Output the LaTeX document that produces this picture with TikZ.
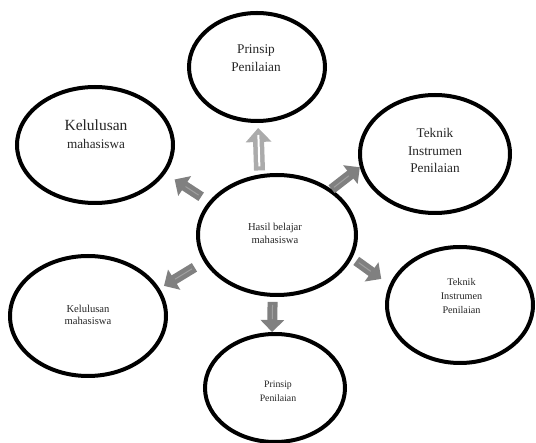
\documentclass[tikz,border=0pt]{standalone}
\usepackage{fontspec}
\setmainfont{Liberation Serif}
\usetikzlibrary{shapes.geometric,arrows.meta}
\definecolor{arrgray}{RGB}{128,128,128}
\definecolor{arrlight}{RGB}{171,171,171}
\definecolor{slitgray}{RGB}{160,160,160}
\tikzset{
  bubble/.style={draw=black, line width=4pt, ellipse, inner sep=0pt, fill=white},
  bubbletext/.style={align=center, inner sep=0pt, text=black!85},
  blockarr/.style={draw=arrgray, line width=10pt, -{Triangle[width=23pt,length=12pt]}},
  blockarrlight/.style={draw=arrlight, line width=11pt, -{Triangle[width=25pt,length=14pt]}},
  slit/.style={line width=1pt, draw=slitgray}
}
\begin{document}
\begin{tikzpicture}[x=1pt,y=1pt,yscale=-1,xscale=1]
\useasboundingbox (0,0) rectangle (536,443);

%Shape: Ellipse [center]
\node[bubble, minimum width=158pt, minimum height=120pt] (hasil) at (277,235) {};
%Shape: Ellipse [top]
\node[bubble, minimum width=136pt, minimum height=108pt] (prinsipA) at (257,67) {};
%Shape: Ellipse [upper left]
\node[bubble, minimum width=156pt, minimum height=116pt] (kelA) at (95,145) {};
%Shape: Ellipse [upper right]
\node[bubble, minimum width=150pt, minimum height=118pt] (tekA) at (435,154) {};
%Shape: Ellipse [lower left]
\node[bubble, minimum width=156pt, minimum height=120pt] (kelB) at (88,316) {};
%Shape: Ellipse [lower right]
\node[bubble, minimum width=146pt, minimum height=116pt] (tekB) at (460,305) {};
%Shape: Ellipse [bottom]
\node[bubble, minimum width=140pt, minimum height=108pt] (prinsipB) at (275,388) {};

%Text Nodes
\node[bubbletext, font=\fontsize{10.6}{13}\selectfont] (hasiltxt) at (275,233.5) {Hasil belajar\\mahasiswa};
\node[bubbletext, font=\fontsize{13.3}{18}\selectfont] (prinsipAtxt) at (256,58) {Prinsip\\Penilaian};
\node[bubbletext, font=\fontsize{13.2}{18}\selectfont] (kelAtxt) at (96,134) {{\fontsize{15.5}{18}\selectfont Kelulusan}\\mahasiswa};
\node[bubbletext, font=\fontsize{13.3}{17.5}\selectfont] (tekAtxt) at (435,150.5) {Teknik\\Instrumen\\Penilaian};
\node[bubbletext, font=\fontsize{10.6}{12.5}\selectfont] (kelBtxt) at (88,315) {Kelulusan\\mahasiswa};
\node[bubbletext, font=\fontsize{10.2}{14}\selectfont] (tekBtxt) at (461.5,296) {Teknik\\Instrumen\\Penilaian};
\node[bubbletext, font=\fontsize{9.8}{14}\selectfont] (prinsipBtxt) at (278,391) {Prinsip\\Penilaian};

%Up Arrow
\draw[blockarrlight, shorten <=4pt, shorten >=5pt] (hasil.106.5) -- (prinsipA.-89);
\draw[line width=2pt, white, shorten <=8pt, shorten >=12pt] (hasil.106.5) -- (prinsipA.-89);
%Left Up Arrow
\draw[blockarr, shorten <=9pt, shorten >=11pt] (hasil.154) -- (kelA.-22);
\draw[slit, shorten <=12pt, shorten >=24pt] (hasil.154) -- (kelA.-22);
%Right Up Arrow
\draw[blockarr] (hasil.40) -- (tekA.190);
\draw[slit, shorten <=3pt, shorten >=14pt] (hasil.40) -- (tekA.190);
%Left Down Arrow
\draw[blockarr, shorten <=11pt, shorten >=5pt] (hasil.200) -- (kelB.21);
\draw[slit, shorten <=14pt, shorten >=18pt] (hasil.200) -- (kelB.21);
%Right Down Arrow
\draw[blockarr, shorten <=5pt, shorten >=10pt] (hasil.-17) -- (tekB.164);
\draw[slit, shorten <=8pt, shorten >=23pt] (hasil.-17) -- (tekB.164);
%Down Arrow
\draw[blockarr, shorten <=5pt] (hasil.-94) -- (prinsipB.93);
\draw[slit, shorten <=8pt, shorten >=13pt] (hasil.-94) -- (prinsipB.93);

\end{tikzpicture}
\end{document}
